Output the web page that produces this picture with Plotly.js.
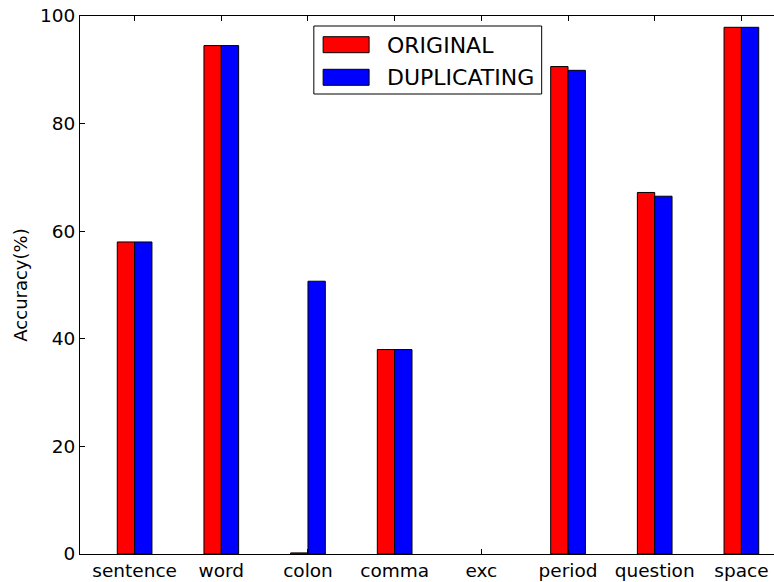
<!DOCTYPE html>
<html>
<head>
<meta charset="utf-8">
<script src="https://cdn.plot.ly/plotly-3.0.1.min.js"></script>
<style>
html,body{margin:0;padding:0;overflow:hidden;background:#fff;}
#chart{width:800px;height:582px;}
</style>
</head>
<body>
<div id="chart"></div>
<script>
const categories = ["sentence","word","colon","comma","exc","period","question","space"];
const originalVals = [58.0, 94.5, 0.2, 38.0, 0, 90.6, 67.2, 97.9];
const duplicatingVals = [58.0, 94.5, 50.7, 38.0, 0, 89.9, 66.5, 97.9];
const seriesNames = ["ORIGINAL","DUPLICATING"];
const seriesColors = ['#ff0000','#0000ff'];
const yTicks = [0,20,40,60,80,100];

const idx = categories.map((c,i)=>i);
// no outline drawn for empty bars
const lineW = vals => vals.map(v => v === 0 ? 0 : 1);
const traces = [
  {type:'bar', name:seriesNames[0], x:idx, y:originalVals, showlegend:false,
   marker:{color:seriesColors[0], line:{color:'#000', width:lineW(originalVals)}}},
  {type:'bar', name:seriesNames[1], x:idx, y:duplicatingVals, showlegend:false,
   marker:{color:seriesColors[1], line:{color:'#000', width:lineW(duplicatingVals)}}}
];

// legend drawn in pixel space, converted to paper coords
const L = 80, R = 796.5, T = 16, B = 554;
const px = v => (v - L) / (R - L);
const py = v => (B - v) / (B - T);
const shapes = [
  {type:'rect', xref:'paper', yref:'paper', x0:px(314), x1:px(542), y0:py(94), y1:py(26),
   line:{color:'#000', width:1}, fillcolor:'#fff', layer:'above'}
];
const annotations = [];
const rowY = [[36.7,52.7,45],[69.3,85.3,77.7]];
seriesNames.forEach((n,i)=>{
  shapes.push({type:'rect', xref:'paper', yref:'paper', x0:px(323.3), x1:px(369.3),
    y0:py(rowY[i][1]), y1:py(rowY[i][0]), line:{color:'#000', width:1},
    fillcolor:seriesColors[i], layer:'above'});
  annotations.push({xref:'paper', yref:'paper', x:px(385), y:py(rowY[i][2]),
    xanchor:'left', yanchor:'middle', showarrow:false, text:n,
    font:{size:22, family:'DejaVu Sans', color:'#000'}});
});

const layout = {
  width:800, height:582,
  margin:{l:80, r:3.5, t:16, b:28, pad:0},
  paper_bgcolor:'#fff', plot_bgcolor:'#fff',
  font:{family:'DejaVu Sans', color:'#000', size:18.5},
  barmode:'group', bargap:0.6, bargroupgap:0,
  showlegend:false,
  shapes:shapes, annotations:annotations,
  xaxis:{range:[-0.63,7.63], tickvals:idx, ticktext:categories,
         showline:true, linecolor:'#000', linewidth:1, mirror:'ticks',
         ticks:'inside', ticklen:5, tickcolor:'#000', showgrid:false, zeroline:false,
         tickfont:{size:18.5}},
  yaxis:{range:[0,100], tickvals:yTicks,
         showline:true, linecolor:'#000', linewidth:1, mirror:'ticks',
         ticks:'inside', ticklen:5, tickcolor:'#000', showgrid:false, zeroline:false,
         tickfont:{size:18.5},
         title:{text:'Accuracy(%)', font:{size:18}, standoff:7}}
};
Plotly.newPlot('chart', traces, layout, {displayModeBar:false, staticPlot:true});
</script>
</body>
</html>
